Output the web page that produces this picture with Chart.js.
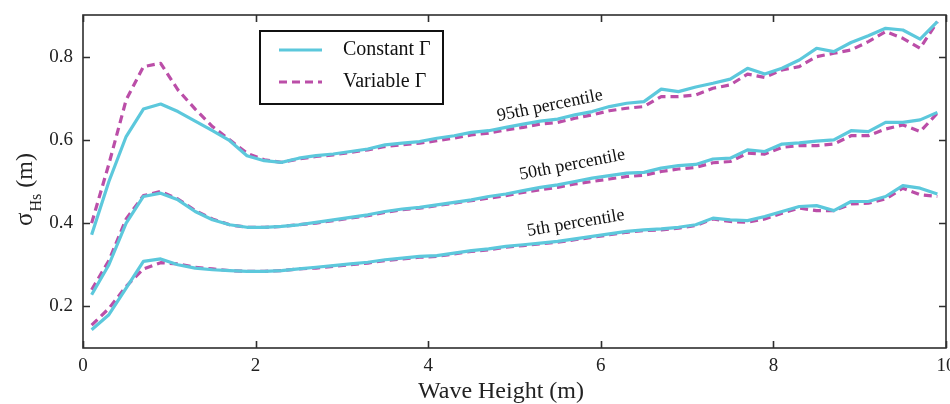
<!DOCTYPE html>
<html>
<head>
<meta charset="utf-8">
<script src="https://cdn.jsdelivr.net/npm/chart.js@4/dist/chart.umd.min.js"></script>
<style>
html,body{margin:0;padding:0;background:#fff;}
#wrap{width:950px;height:404px;position:relative;}
</style>
</head>
<body>
<div id="wrap"><canvas id="c" width="950" height="404"></canvas></div>
<script>
// ---- data ----
const waveHeight = [0.1,0.3,0.5,0.7,0.9,1.1,1.3,1.5,1.7,1.9,2.1,2.3,2.5,2.7,2.9,3.1,3.3,3.5,3.7,3.9,4.1,4.3,4.5,4.7,4.9,5.1,5.3,5.5,5.7,5.9,6.1,6.3,6.5,6.7,6.9,7.1,7.3,7.5,7.7,7.9,8.1,8.3,8.5,8.7,8.9,9.1,9.3,9.5,9.7,9.9];

const p95Constant = [0.372,0.500,0.608,0.674,0.686,0.668,0.645,0.622,0.598,0.562,0.550,0.546,0.556,0.562,0.566,0.572,0.578,0.588,0.592,0.596,0.604,0.610,0.618,0.622,0.630,0.638,0.645,0.650,0.660,0.668,0.680,0.688,0.692,0.722,0.716,0.727,0.736,0.746,0.772,0.758,0.772,0.792,0.820,0.812,0.834,0.850,0.868,0.864,0.842,0.884];
const p95Variable = [0.400,0.542,0.696,0.776,0.784,0.720,0.674,0.632,0.600,0.568,0.552,0.546,0.554,0.560,0.564,0.570,0.576,0.584,0.588,0.592,0.598,0.604,0.612,0.616,0.624,0.630,0.638,0.642,0.652,0.660,0.670,0.676,0.680,0.704,0.704,0.708,0.724,0.732,0.758,0.750,0.768,0.776,0.800,0.808,0.816,0.836,0.860,0.844,0.820,0.884];

const p50Constant = [0.228,0.300,0.400,0.464,0.472,0.456,0.428,0.408,0.396,0.390,0.390,0.392,0.396,0.402,0.408,0.414,0.420,0.428,0.434,0.438,0.444,0.450,0.456,0.464,0.470,0.478,0.486,0.492,0.500,0.508,0.514,0.520,0.522,0.532,0.538,0.541,0.554,0.556,0.576,0.572,0.590,0.593,0.597,0.600,0.622,0.620,0.642,0.642,0.648,0.666];
const p50Variable = [0.240,0.310,0.410,0.466,0.476,0.458,0.430,0.410,0.396,0.390,0.390,0.392,0.396,0.400,0.406,0.412,0.418,0.426,0.432,0.436,0.442,0.448,0.454,0.460,0.466,0.474,0.480,0.486,0.494,0.500,0.506,0.512,0.515,0.524,0.530,0.534,0.545,0.548,0.568,0.566,0.582,0.586,0.586,0.590,0.610,0.610,0.626,0.636,0.620,0.664];

const p5Constant = [0.144,0.180,0.244,0.308,0.314,0.300,0.292,0.288,0.286,0.284,0.284,0.286,0.290,0.294,0.298,0.302,0.306,0.312,0.316,0.320,0.322,0.328,0.334,0.338,0.344,0.348,0.352,0.356,0.362,0.368,0.374,0.380,0.384,0.386,0.390,0.396,0.412,0.408,0.406,0.416,0.428,0.440,0.442,0.430,0.452,0.452,0.464,0.490,0.484,0.470];
const p5Variable = [0.155,0.195,0.248,0.290,0.305,0.302,0.294,0.290,0.286,0.284,0.284,0.286,0.290,0.292,0.296,0.300,0.304,0.310,0.314,0.318,0.320,0.326,0.332,0.336,0.342,0.346,0.350,0.354,0.360,0.366,0.372,0.378,0.382,0.384,0.388,0.394,0.410,0.404,0.402,0.410,0.424,0.436,0.430,0.430,0.446,0.448,0.458,0.484,0.468,0.464];

const xTicks = [0,2,4,6,8,10];
const yTicks = [0.2,0.4,0.6,0.8];
const yTickLabels = ['0.2','0.4','0.6','0.8'];
const seriesLabels = ['Constant Γ','Variable Γ'];
const percentileLabels = ['95th percentile','50th percentile','5th percentile'];
const percentileLabelPos = [[5.41,0.682],[5.67,0.540],[5.71,0.400]];
const xTitle = 'Wave Height (m)';

// ---- styling ----
const FONT = '"Liberation Serif","Times New Roman",serif';
const CYAN = '#5cc8dc';
const MAG = '#bb4ea8';
const DASH = [8,5];
const AXIS = '#2e2e2e';

const toPts = arr => arr.map((v,i)=>({x:waveHeight[i], y:v}));
function ds(label, data, dashed){
  return {
    label, data: toPts(data),
    borderColor: dashed ? MAG : CYAN,
    borderWidth: 3.2,
    borderDash: dashed ? DASH : [],
    pointRadius: 0, tension: 0, fill: false,
    borderCapStyle: 'butt', borderJoinStyle: 'round'
  };
}

const frame = {
  id: 'frame',
  afterDatasetsDraw(chart){
    const {ctx, scales:{x,y}} = chart;
    ctx.save();
    ctx.fillStyle = '#111';
    ctx.font = '18px ' + FONT;
    ctx.textAlign = 'center';
    ctx.textBaseline = 'middle';
    const angles = [-11.5,-11,-9.5];
    percentileLabels.forEach((t,i)=>{
      const px = x.getPixelForValue(percentileLabelPos[i][0]);
      const py = y.getPixelForValue(percentileLabelPos[i][1]);
      ctx.save();
      ctx.translate(px,py);
      ctx.rotate(angles[i]*Math.PI/180);
      ctx.fillText(t,0,0);
      ctx.restore();
    });
    ctx.restore();
  },
  afterDraw(chart){
    const {ctx, chartArea:a, scales:{x,y}} = chart;
    ctx.save();
    ctx.strokeStyle = AXIS;
    ctx.lineWidth = 1.6;
    ctx.strokeRect(a.left, a.top, a.right-a.left, a.bottom-a.top);
    ctx.beginPath();
    const TL = 7;
    x.ticks.forEach(t=>{
      const px = Math.round(x.getPixelForValue(t.value))+0.5;
      ctx.moveTo(px,a.bottom); ctx.lineTo(px,a.bottom-TL);
      ctx.moveTo(px,a.top); ctx.lineTo(px,a.top+TL);
    });
    y.ticks.forEach(t=>{
      const py = Math.round(y.getPixelForValue(t.value))+0.5;
      ctx.moveTo(a.left,py); ctx.lineTo(a.left+TL,py);
      ctx.moveTo(a.right,py); ctx.lineTo(a.right-TL,py);
    });
    ctx.stroke();

    // legend
    const L = {x:260, y:31, w:183, h:73};
    ctx.fillStyle = '#fff';
    ctx.fillRect(L.x,L.y,L.w,L.h);
    ctx.strokeStyle = '#111';
    ctx.lineWidth = 2;
    ctx.strokeRect(L.x,L.y,L.w,L.h);
    const rows = [{c:CYAN,d:[],yy:50,t:seriesLabels[0]},{c:MAG,d:DASH,yy:82,t:seriesLabels[1]}];
    ctx.font = '20px ' + FONT;
    ctx.textAlign = 'left';
    ctx.textBaseline = 'middle';
    rows.forEach(r=>{
      ctx.beginPath();
      ctx.strokeStyle = r.c;
      ctx.lineWidth = 3.2;
      ctx.setLineDash(r.d);
      ctx.moveTo(279,r.yy); ctx.lineTo(322,r.yy);
      ctx.stroke();
      ctx.setLineDash([]);
      ctx.fillStyle = '#111';
      ctx.fillText(r.t, 343, r.yy);
    });

    // x title
    ctx.fillStyle = '#222';
    ctx.font = '24px ' + FONT;
    ctx.textAlign = 'center';
    ctx.textBaseline = 'alphabetic';
    ctx.fillText(xTitle, 501, 398);

    // y title with subscript
    ctx.save();
    ctx.translate(32, 226);
    ctx.rotate(-Math.PI/2);
    ctx.textAlign = 'left';
    ctx.textBaseline = 'alphabetic';
    ctx.font = '25px ' + FONT;
    ctx.fillText('σ', 0, 0);
    let w = ctx.measureText('σ').width + 1;
    ctx.font = '16px ' + FONT;
    ctx.fillText('Hs', w, 9);
    w += ctx.measureText('Hs').width;
    ctx.font = '24px ' + FONT;
    ctx.fillText(' (m)', w, 0);
    ctx.restore();

    ctx.restore();
  }
};

new Chart(document.getElementById('c'), {
  type: 'line',
  data: {
    datasets: [
      ds(seriesLabels[0], p95Constant, false),
      ds(seriesLabels[0], p50Constant, false),
      ds(seriesLabels[0], p5Constant, false),
      ds(seriesLabels[1], p95Variable, true),
      ds(seriesLabels[1], p50Variable, true),
      ds(seriesLabels[1], p5Variable, true)
    ]
  },
  options: {
    responsive: false,
    animation: false,
    devicePixelRatio: 1,
    layout: { padding: { left: 0, right: 4, top: 15, bottom: 0 } },
    plugins: { legend: { display: false }, tooltip: { enabled: false } },
    scales: {
      x: {
        type: 'linear', min: 0, max: 10,
        afterBuildTicks: s => { s.ticks = xTicks.map(v=>({value:v})); },
        afterFit: s => { s.height = 56; s.paddingLeft = 0; s.paddingRight = 0; },
        grid: { display: false, drawTicks: false },
        border: { display: false },
        ticks: { color: '#222', font: { family: FONT, size: 19 }, padding: 7, maxRotation: 0,
                 callback: v => String(v) }
      },
      y: {
        type: 'linear', min: 0.1, max: 0.9,
        afterBuildTicks: s => { s.ticks = yTicks.map(v=>({value:v})); },
        afterFit: s => { s.width = 83; s.paddingTop = 0; s.paddingBottom = 0; },
        grid: { display: false, drawTicks: false },
        border: { display: false },
        ticks: { color: '#222', font: { family: FONT, size: 19 }, padding: 10,
                 callback: v => yTickLabels[yTicks.indexOf(v)] ?? '' }
      }
    }
  },
  plugins: [frame]
});
</script>
</body>
</html>
